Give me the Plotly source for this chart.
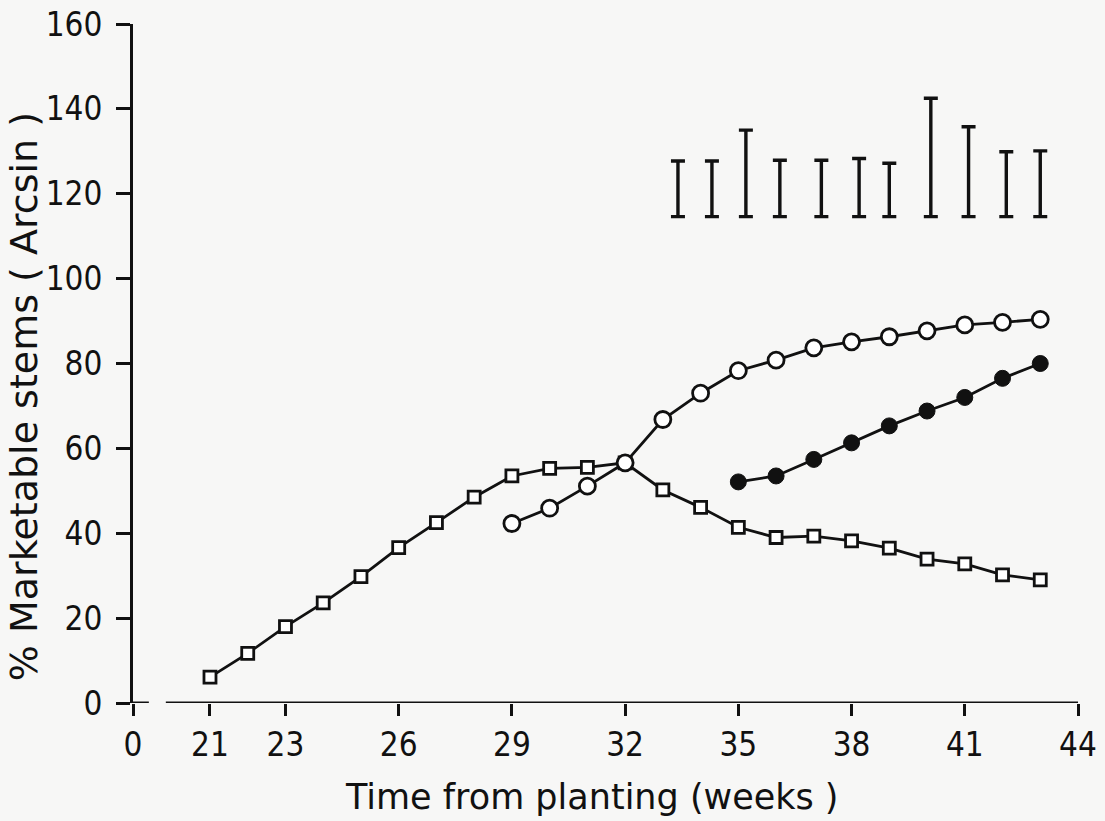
import plotly.graph_objects as go

# ---- data ----
weeks_sq = list(range(21, 44))
squares = [6.1, 11.7, 18.0, 23.6, 29.8, 36.6, 42.5, 48.5, 53.5, 55.3, 55.5, 56.6,
           50.2, 46.1, 41.4, 39.0, 39.3, 38.2, 36.5, 33.9, 32.8, 30.2, 29.0]

weeks_open = list(range(29, 44))
open_circles = [42.3, 45.9, 51.1, 56.6, 66.8, 73.0, 78.3, 80.8, 83.7, 85.1, 86.3,
                87.7, 89.1, 89.7, 90.4]

weeks_filled = list(range(35, 44))
filled_circles = [52.1, 53.5, 57.4, 61.3, 65.3, 68.8, 72.0, 76.5, 80.0]

bar_x = [33.4, 34.3, 35.2, 36.1, 37.2, 38.2, 39.0, 40.1, 41.1, 42.1, 43.0]
bar_low = [114.6, 114.6, 114.6, 114.6, 114.6, 114.6, 114.6, 114.6, 114.6, 114.6, 114.6]
bar_high = [127.7, 127.7, 135.0, 127.9, 127.9, 128.3, 127.2, 142.5, 135.8, 129.9, 130.1]

x_tickvals = [18.96, 21, 23, 26, 29, 32, 35, 38, 41, 44]
x_ticktext = ["0", "21", "23", "26", "29", "32", "35", "38", "41", "44"]
y_tickvals = [0, 20, 40, 60, 80, 100, 120, 140, 160]

x_title = "Time from planting (weeks )"
y_title = "% Marketable stems ( Arcsin )"

X_MIN, X_MAX = 18.96, 44
BG = "#f7f7f6"
INK = "#111111"
TICKFONT = dict(family="DejaVu Sans Condensed, DejaVu Sans", size=33, color=INK)
XTITLEFONT = dict(family="DejaVu Sans", size=35, color=INK)
YTITLEFONT = dict(family="DejaVu Sans", size=38, color=INK)

fig = go.Figure()

fig.add_trace(go.Scatter(
    x=weeks_sq, y=squares, mode="lines+markers",
    line=dict(color=INK, width=2.8),
    marker=dict(symbol="square", size=12, color="white", line=dict(color=INK, width=2.8)),
    showlegend=False))

fig.add_trace(go.Scatter(
    x=weeks_filled, y=filled_circles, mode="lines+markers",
    line=dict(color=INK, width=2.8),
    marker=dict(symbol="circle", size=16, color=INK, line=dict(color=INK, width=1)),
    showlegend=False))

fig.add_trace(go.Scatter(
    x=weeks_open, y=open_circles, mode="lines+markers",
    line=dict(color=INK, width=2.8),
    marker=dict(symbol="circle", size=16, color="white", line=dict(color=INK, width=2.8)),
    showlegend=False))

mid = [(lo + hi) / 2 for lo, hi in zip(bar_low, bar_high)]
half = [(hi - lo) / 2 for lo, hi in zip(bar_low, bar_high)]
fig.add_trace(go.Scatter(
    x=bar_x, y=mid, mode="markers",
    marker=dict(size=1, color="rgba(0,0,0,0)"),
    error_y=dict(type="data", array=half, symmetric=True, color=INK, thickness=3.4, width=7),
    showlegend=False))

# broken x-axis line
fig.add_shape(type="line", xref="x", yref="y", x0=19.83, x1=X_MAX, y0=0, y1=0,
              line=dict(color=INK, width=3))
fig.add_shape(type="line", xref="x", yref="y", x0=X_MIN, x1=19.38, y0=0, y1=0,
              line=dict(color=INK, width=3))

# axis titles
fig.add_annotation(text=x_title, xref="paper", yref="paper", x=0.486, y=-0.138,
                   xanchor="center", yanchor="middle", showarrow=False, font=XTITLEFONT)
fig.add_annotation(text=y_title, xref="paper", yref="paper", x=-0.116, y=0.451,
                   xanchor="center", yanchor="middle", textangle=-90, showarrow=False,
                   font=YTITLEFONT)

fig.update_layout(
    width=1105, height=821,
    margin=dict(l=133, r=27, t=24, b=118, autoexpand=False),
    paper_bgcolor=BG, plot_bgcolor=BG,
    xaxis=dict(range=[X_MIN, X_MAX], tickvals=x_tickvals, ticktext=x_ticktext,
               showgrid=False, zeroline=False, showline=False, automargin=False,
               ticks="outside", ticklen=12, tickwidth=3, tickcolor=INK,
               tickfont=TICKFONT, ticklabelstandoff=0),
    yaxis=dict(range=[0, 160], tickvals=y_tickvals, automargin=False,
               showgrid=False, zeroline=False, showline=True, linecolor=INK, linewidth=3,
               ticks="outside", ticklen=14, tickwidth=3, tickcolor=INK,
               tickfont=TICKFONT, ticklabelstandoff=7),
)

fig.write_html("out.html")
